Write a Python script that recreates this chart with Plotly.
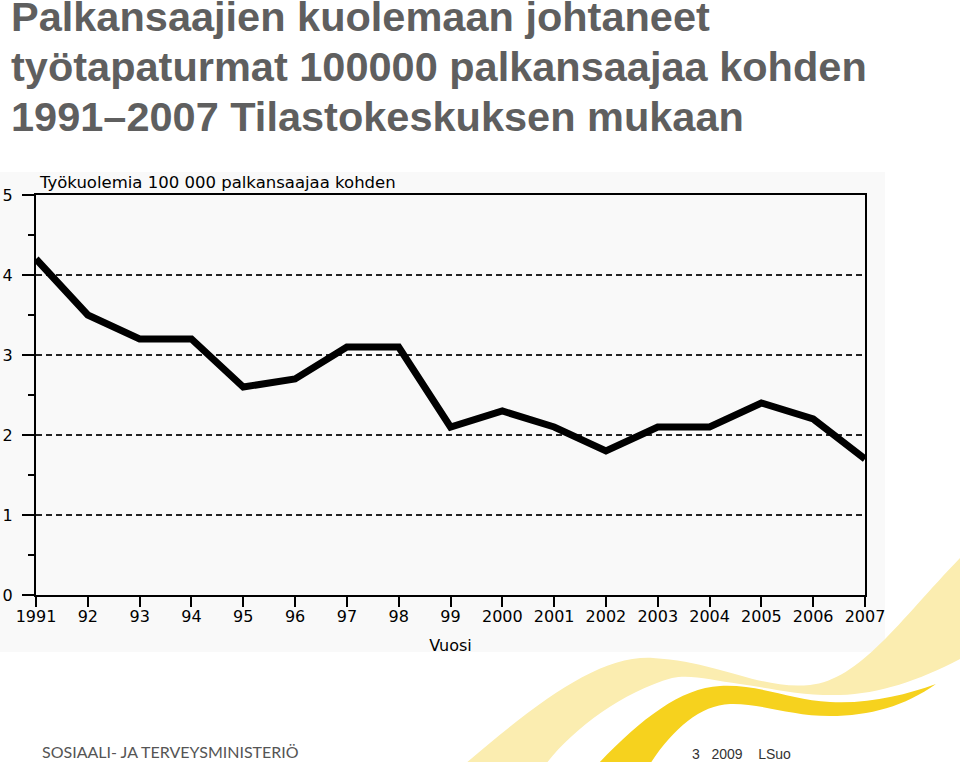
import plotly.graph_objects as go

# data
years = list(range(1991, 2008))
deaths = [4.2, 3.5, 3.2, 3.2, 2.6, 2.7, 3.1, 3.1, 2.1, 2.3, 2.1, 1.8, 2.1, 2.1, 2.4, 2.2, 1.7]
tick_labels = ['1991', '92', '93', '94', '95', '96', '97', '98', '99',
               '2000', '2001', '2002', '2003', '2004', '2005', '2006', '2007']
title_lines = ['Palkansaajien kuolemaan johtaneet',
               'työtapaturmat 100000 palkansaajaa kohden',
               '1991–2007 Tilastokeskuksen mukaan']

W, H = 960, 762
ML, MR, MT, MB = 36, 95, 195, 167
PW, PH = W - ML - MR, H - MT - MB


def px(x, y):
    # pixel -> paper fraction
    return (x - ML) / PW, (H - MB - y) / PH


def path(cmds):
    out = []
    for c in cmds:
        op, pts = c[0], c[1:]
        s = op
        for (x, y) in pts:
            a, b = px(x, y)
            s += ' %.4f,%.4f' % (a, b)
        out.append(s)
    return ' '.join(out) + ' Z'


light_band = path([
    ('M', (465, 764)),
    ('C', (540, 700), (600, 655), (653, 658)),
    ('C', (720, 662), (760, 690), (810, 685)),
    ('C', (860, 680), (900, 620), (962, 556)),
    ('L', (962, 658)),
    ('C', (920, 680), (880, 694), (840, 695)),
    ('C', (800, 696), (770, 688), (740, 684)),
    ('C', (712, 680), (690, 674), (672, 678)),
    ('C', (622, 692), (572, 730), (546, 764)),
])
dark_band = path([
    ('M', (598, 764)),
    ('C', (640, 720), (680, 688), (720, 686)),
    ('C', (760, 684), (790, 700), (830, 702)),
    ('C', (870, 704), (905, 695), (936, 684)),
    ('C', (905, 706), (870, 716), (830, 716)),
    ('C', (790, 716), (760, 703), (730, 704)),
    ('C', (700, 705), (672, 730), (650, 764)),
])

p0 = px(0, 172)
p1 = px(885, 652)

fig = go.Figure()
fig.add_trace(go.Scatter(
    x=years, y=deaths, mode='lines',
    line=dict(color='black', width=7),
    hoverinfo='skip', showlegend=False,
))

axis_font = dict(family='DejaVu Sans', size=16, color='black')

fig.update_layout(
    width=W, height=H,
    margin=dict(l=ML, r=MR, t=MT, b=MB, autoexpand=False),
    paper_bgcolor='white',
    plot_bgcolor='rgba(0,0,0,0)',
    showlegend=False,
    shapes=[
        dict(type='rect', xref='paper', yref='paper', layer='below',
             x0=p0[0], y0=p0[1], x1=p1[0], y1=p1[1],
             fillcolor='#f9f9f9', line_width=0),
        dict(type='path', xref='paper', yref='paper', layer='below',
             path=light_band, fillcolor='#fbedb0', line_width=0),
        dict(type='path', xref='paper', yref='paper', layer='below',
             path=dark_band, fillcolor='#f6d21e', line_width=0),
    ],
    xaxis=dict(
        range=[1991, 2007], automargin=False,
        tickvals=years, ticktext=tick_labels,
        ticks='outside', ticklen=10, tickwidth=2, tickcolor='black',
        showline=True, linecolor='black', linewidth=2, mirror=True,
        showgrid=False, zeroline=False,
        ticklabelstandoff=-4,
        tickfont=axis_font,
        title=dict(text='Vuosi', standoff=15, font=axis_font),
    ),
    yaxis=dict(
        range=[0, 5], dtick=1, automargin=False,
        ticks='outside', ticklen=12, tickwidth=2, tickcolor='black',
        showline=True, linecolor='black', linewidth=2, mirror=True,
        showgrid=True, gridcolor='#222222', gridwidth=1.5, griddash='6px,4px',
        zeroline=False,
        minor=dict(dtick=0.5, ticks='outside', ticklen=6, tickwidth=1.5,
                   tickcolor='black', showgrid=False),
        ticklabelstandoff=6,
        tickfont=axis_font,
    ),
)

# slide title, one annotation per line
for i, line in enumerate(title_lines):
    tx, ty = px(9, 17 + 49.5 * i)
    fig.add_annotation(
        text=line, xref='paper', yref='paper', x=tx, y=ty,
        xanchor='left', yanchor='middle', align='left', showarrow=False,
        font=dict(family='Liberation Sans', size=41.5, color='#5f5f5f', weight='bold'),
    )

cx, cy = px(37, 182)
fig.add_annotation(
    text='Työkuolemia 100 000 palkansaajaa kohden', xref='paper', yref='paper',
    x=cx, y=cy, xanchor='left', yanchor='middle', showarrow=False,
    font=dict(family='DejaVu Sans', size=16.5, color='black'),
)

lx, ly = px(40, 751)
fig.add_annotation(
    text='SOSIAALI- JA TERVEYSMINISTERIÖ', xref='paper', yref='paper',
    x=lx, y=ly, xanchor='left', yanchor='middle', showarrow=False,
    font=dict(family='Lato', size=16, color='#555555'),
)

fx, fy = px(690, 754)
fig.add_annotation(
    text='3&nbsp;&nbsp;&nbsp;2009&nbsp;&nbsp;&nbsp;&nbsp;LSuo', xref='paper', yref='paper',
    x=fx, y=fy, xanchor='left', yanchor='middle', showarrow=False,
    font=dict(family='Liberation Sans', size=14, color='#333333'),
)

# drop the default page margin so the figure sits at the window's corner
fig.write_html('out.html', config={'displayModeBar': False},
               post_script="document.body.style.margin='0';")
